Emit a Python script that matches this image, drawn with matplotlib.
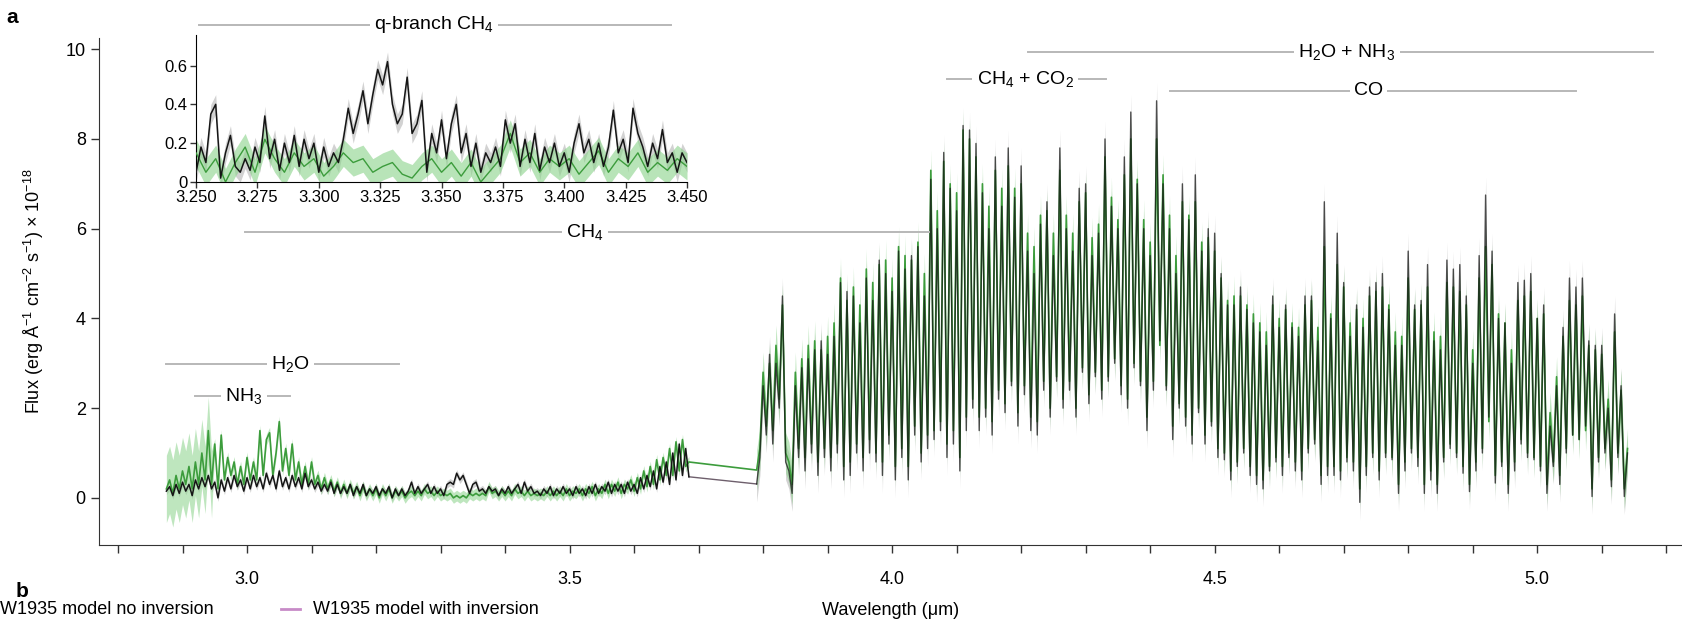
import numpy as np
import matplotlib.pyplot as plt
from matplotlib.ticker import MultipleLocator

plt.rcParams['font.family'] = ['Liberation Sans', 'DejaVu Sans']
plt.rcParams['mathtext.fontset'] = 'custom'
plt.rcParams['mathtext.rm'] = 'Liberation Sans'
plt.rcParams['mathtext.it'] = 'Liberation Sans:italic'
plt.rcParams['mathtext.default'] = 'regular'

# Segment 1: 2.875 - 3.685 um, every 0.005 um
seg1_start = 2.875
seg1_step = 0.005
seg1_data = [
    0.15, 0.25, 0.05, 0.3, 0.1, 0.35, 0.15, 0.3, 0.05, 0.4, 0.2, 0.45, 0.25, 0.5, 0.2, 0.35, 0.0, 0.4, 0.15, 0.45,
    0.2, 0.5, 0.25, 0.4, 0.15, 0.45, 0.2, 0.5, 0.25, 0.45, 0.2, 0.55, 0.3, 0.5, 0.2, 0.6, 0.25, 0.45, 0.2, 0.5,
    0.25, 0.45, 0.2, 0.55, 0.25, 0.4, 0.2, 0.35, 0.15, 0.3, 0.15, 0.35, 0.1, 0.3, 0.1, 0.25, 0.1, 0.3, 0.05, 0.25,
    0.1, 0.3, 0.05, 0.2, 0.1, 0.25, 0.05, 0.2, 0.1, 0.25, 0.0, 0.2, 0.05, 0.2, 0.05, 0.15, 0.35, 0.1, 0.25, 0.1,
    0.2, 0.3, 0.1, 0.25, 0.1, 0.2, 0.05, 0.3, 0.35, 0.3, 0.55, 0.4, 0.5, 0.3, 0.1, 0.3, 0.35, 0.15, 0.2, 0.1,
    0.25, 0.15, 0.2, 0.05, 0.2, 0.1, 0.25, 0.1, 0.2, 0.3, 0.1, 0.35, 0.15, 0.25, 0.1, 0.15, 0.05, 0.2, 0.1, 0.25,
    0.05, 0.2, 0.1, 0.25, 0.1, 0.2, 0.05, 0.25, 0.1, 0.2, 0.05, 0.25, 0.1, 0.3, 0.1, 0.25, 0.15, 0.35, 0.1, 0.3,
    0.15, 0.3, 0.1, 0.35, 0.15, 0.3, 0.1, 0.45, 0.2, 0.5, 0.25, 0.6, 0.2, 0.7, 0.35, 0.8, 0.3, 1.0, 0.4, 1.2,
    0.5, 1.1, 0.47,
]
seg1_model = [
    0.2, 0.4, 0.1, 0.5, 0.2, 0.6, 0.3, 0.7, 0.2, 0.8, 0.3, 1.0, 0.4, 1.5, 0.3, 1.2, 0.2, 1.4, 0.4, 0.9,
    0.5, 0.8, 0.3, 0.7, 0.3, 0.9, 0.4, 0.8, 0.4, 1.5, 0.5, 1.3, 1.45, 0.5, 1.0, 1.7, 0.6, 1.1, 0.5, 1.2,
    0.4, 0.8, 0.3, 0.7, 0.3, 0.8, 0.3, 0.5, 0.2, 0.45, 0.2, 0.4, 0.15, 0.35, 0.1, 0.3, 0.1, 0.3, 0.1, 0.25,
    0.05, 0.25, 0.05, 0.2, 0.05, 0.2, 0.0, 0.2, 0.05, 0.2, 0.0, 0.15, 0.05, 0.15, 0.0, 0.1, 0.15, 0.05, 0.15, 0.05,
    0.2, 0.1, 0.15, 0.05, 0.15, 0.05, 0.1, 0.05, 0.1, 0.0, 0.05, 0.0, 0.05, 0.0, 0.1, 0.05, 0.1, 0.05, 0.1, 0.05,
    0.25, 0.1, 0.15, 0.05, 0.15, 0.05, 0.15, 0.05, 0.2, 0.1, 0.15, 0.05, 0.15, 0.05, 0.1, 0.05, 0.1, 0.05, 0.15, 0.05,
    0.15, 0.05, 0.15, 0.05, 0.2, 0.05, 0.15, 0.1, 0.2, 0.05, 0.2, 0.1, 0.25, 0.05, 0.2, 0.1, 0.3, 0.1, 0.3, 0.15,
    0.35, 0.1, 0.3, 0.2, 0.4, 0.15, 0.45, 0.2, 0.6, 0.25, 0.7, 0.3, 0.85, 0.4, 0.9, 0.5, 1.1, 0.5, 1.25, 0.6,
    1.3, 0.7, 0.8,
]
seg1_wide_end = 2.95  # model spread is large below this wavelength

# Segment 2: 3.79 - 5.14 um, line peaks at 3.79, 3.80 ... and troughs at 3.795, 3.805 ...
seg2_start = 3.79
seg2_step = 0.005
seg2_data_peaks = [
    0.31, 2.5, 3.2, 3.0, 4.5, 0.6, 2.5, 2.9, 3.1, 3.3, 3.5, 3.2, 3.6, 4.8, 4.6, 4.5, 3.9, 4.9, 4.4, 5.3,
    5.0, 4.6, 5.5, 5.1, 5.4, 5.6, 4.5, 7.1, 6.0, 7.7, 6.9, 6.4, 8.3, 8.2, 7.9, 6.8, 6.0, 7.6, 6.5, 7.8,
    6.7, 7.4, 5.5, 5.0, 6.1, 6.6, 5.4, 7.8, 6.0, 5.5, 6.9, 7.0, 5.4, 5.9, 8.0, 6.5, 6.0, 7.6, 8.6, 7.0,
    6.0, 5.4, 8.85, 7.0, 6.0, 5.0, 7.0, 6.2, 7.2, 5.5, 6.0, 5.9, 5.0, 4.3, 4.3, 4.7, 4.2, 3.9, 3.7, 3.4,
    4.5, 3.8, 4.3, 3.8, 3.6, 4.5, 4.5, 3.5, 6.6, 4.0, 5.9, 4.8, 3.6, 4.3, 3.8, 4.7, 4.8, 5.0, 4.2, 3.4,
    3.4, 5.5, 4.3, 4.4, 5.2, 3.5, 3.3, 5.3, 5.1, 5.2, 4.5, 3.0, 5.4, 6.75, 5.5, 4.0, 3.9, 3.0, 4.8, 4.85,
    5.0, 4.0, 4.3, 1.6, 2.5, 3.8, 4.9, 4.7, 4.9, 3.5, 3.4, 3.4, 2.0, 4.1, 2.5, 1.0,
]
seg2_data_troughs = [
    0.9, 1.4, 1.2, 2.0, 0.8, 0.1, 0.9, 0.6, 1.0, 0.5, 0.9, 0.6, 1.0, 0.4, 0.5, 1.0, 0.6, 1.0, 0.8, 0.5,
    1.2, 0.4, 0.9, 0.4, 1.4, 0.8, 1.1, 1.3, 1.5, 0.9, 1.2, 0.6, 1.5, 2.0, 1.5, 1.8, 1.4, 2.2, 1.9, 2.5,
    1.6, 2.3, 1.5, 1.4, 2.4, 1.8, 2.6, 2.0, 2.4, 1.8, 2.8, 2.1, 2.7, 2.2, 2.6, 3.0, 2.3, 2.0, 2.9, 2.5,
    1.5, 2.4, 3.5, 2.4, 1.3, 2.0, 1.6, 1.2, 1.9, 1.2, 1.6, 0.9, 0.85, 0.4, 0.7, 1.0, 0.5, 0.3, 0.2, 0.6,
    0.8, 0.5, 0.9, 0.6, 0.4, 1.0, 1.2, 0.3, 0.5, 0.5, 0.4, 0.8, 0.6, -0.1, 0.5, 0.9, 0.4, 0.9, 0.85, 0.1,
    0.6, 1.0, 0.7, 0.1, 0.4, 0.1, 0.8, 1.1, 0.9, 0.55, 0.14, 0.6, 1.0, 1.8, 0.33, 0.7, 0.1, 0.6, 1.2, 0.9,
    0.85, 0.6, 0.1, 0.7, 0.3, 1.0, 1.4, 1.3, 1.6, 0.03, 0.8, 1.0, 0.25, 0.9, 0.03,
]
seg2_model_peaks = [
    0.62, 2.8, 3.0, 3.4, 4.3, 0.8, 2.8, 3.1, 3.4, 3.5, 3.3, 3.6, 3.9, 4.9, 4.4, 4.7, 4.3, 5.1, 4.8, 5.2,
    5.3, 4.9, 5.6, 5.4, 5.3, 5.7, 5.0, 7.3, 6.4, 7.5, 7.0, 6.8, 8.2, 8.0, 7.6, 7.0, 6.5, 7.3, 6.9, 7.4,
    6.9, 7.0, 5.9, 5.6, 6.3, 6.4, 5.9, 7.3, 6.3, 5.9, 6.6, 6.8, 5.8, 6.1, 7.6, 6.7, 6.2, 7.2, 8.0, 7.1,
    6.2, 5.7, 8.0, 7.2, 6.3, 5.4, 6.6, 6.3, 6.6, 5.7, 5.8, 5.5, 4.9, 4.4, 4.5, 4.5, 4.3, 4.1, 3.9, 3.7,
    4.3, 4.0, 4.2, 3.9, 3.8, 4.3, 4.4, 3.8, 5.6, 4.1, 5.2, 4.7, 3.9, 4.2, 4.0, 4.5, 4.6, 4.7, 4.3, 3.7,
    3.6, 4.9, 4.2, 4.3, 4.7, 3.7, 3.6, 4.8, 4.7, 4.6, 4.3, 3.3, 4.9, 5.6, 5.2, 4.1, 3.9, 3.3, 4.4, 4.5,
    4.6, 4.0, 4.1, 1.9, 2.7, 3.6, 4.4, 4.3, 4.5, 3.4, 3.3, 3.2, 2.2, 3.7, 2.4, 1.1,
]
seg2_model_troughs = [
    1.1, 1.6, 1.5, 2.2, 1.0, 0.3, 1.1, 0.9, 1.2, 0.8, 1.1, 0.9, 1.2, 0.7, 0.8, 1.2, 0.9, 1.3, 1.0, 0.8,
    1.4, 0.7, 1.1, 0.7, 1.6, 1.0, 1.4, 1.5, 1.7, 1.2, 1.5, 0.9, 1.8, 2.2, 1.8, 2.0, 1.7, 2.4, 2.1, 2.6,
    1.9, 2.5, 1.8, 1.7, 2.6, 2.0, 2.7, 2.2, 2.6, 2.0, 2.9, 2.3, 2.8, 2.4, 2.7, 3.1, 2.5, 2.2, 3.0, 2.6,
    1.8, 2.6, 3.4, 2.5, 1.6, 2.1, 1.8, 1.4, 2.0, 1.4, 1.7, 1.1, 1.0, 0.6, 0.8, 1.1, 0.7, 0.5, 0.4, 0.7,
    0.9, 0.7, 1.0, 0.8, 0.6, 1.1, 1.3, 0.5, 0.7, 0.7, 0.6, 0.9, 0.8, 0.2, 0.7, 1.0, 0.6, 1.0, 0.9, 0.3,
    0.8, 1.1, 0.9, 0.3, 0.6, 0.3, 0.9, 1.2, 1.0, 0.7, 0.3, 0.8, 1.1, 1.7, 0.5, 0.8, 0.3, 0.8, 1.3, 1.0,
    0.9, 0.7, 0.3, 0.8, 0.5, 1.1, 1.4, 1.3, 1.5, 0.2, 0.9, 1.1, 0.4, 1.0, 0.2,
]

# Inset (q-branch CH4): 3.250 - 3.450 um
inset_data_start = 3.25
inset_data_step = 0.002
inset_data = [
    0.05, 0.18, 0.10, 0.35, 0.40, 0.02, 0.15, 0.24, 0.08, 0.05, 0.12, 0.06, 0.18, 0.10, 0.34, 0.12, 0.22, 0.06, 0.20, 0.10,
    0.24, 0.08, 0.22, 0.12, 0.20, 0.05, 0.18, 0.08, 0.15, 0.10, 0.22, 0.38, 0.25, 0.35, 0.47, 0.30, 0.45, 0.58, 0.50, 0.62,
    0.40, 0.30, 0.35, 0.54, 0.25, 0.30, 0.42, 0.05, 0.25, 0.15, 0.32, 0.12, 0.30, 0.40, 0.15, 0.25, 0.08, 0.20, 0.05, 0.15,
    0.10, 0.18, 0.08, 0.32, 0.20, 0.30, 0.08, 0.22, 0.10, 0.25, 0.06, 0.18, 0.10, 0.20, 0.08, 0.15, 0.05, 0.20, 0.30, 0.15,
    0.22, 0.10, 0.20, 0.08, 0.18, 0.37, 0.15, 0.22, 0.10, 0.38, 0.25, 0.18, 0.08, 0.20, 0.12, 0.27, 0.10, 0.15, 0.05, 0.15,
    0.10,
]
inset_model_start = 3.25
inset_model_step = 0.004
inset_model = [
    0.15, 0.05, 0.12, 0.0, 0.10, 0.18, 0.05, 0.22, 0.12, 0.05, 0.15, 0.08, 0.12, 0.03, 0.08, 0.15, 0.10, 0.12, 0.05, 0.08,
    0.10, 0.04, 0.02, 0.08, 0.12, 0.05, 0.10, 0.03, 0.10, 0.0, 0.06, 0.12, 0.25, 0.10, 0.15, 0.05, 0.12, 0.08, 0.12, 0.04,
    0.10, 0.16, 0.05, 0.12, 0.08, 0.15, 0.05, 0.10, 0.06, 0.12, 0.08,
]

# uncertainties
seg1_err = 0.08
seg2_err = 0.4
inset_err = 0.05
model_spread_narrow = 0.12
model_spread_wide = 0.75
model_spread_seg2 = 0.45
inset_model_spread = 0.07

# labelled bands: label, start, end, flux level, label position
bands = [
    ('CH$_4$', 2.997, 4.057, 5.93, 3.524),
    ('H$_2$O + NH$_3$', 4.211, 5.18, 9.93, 4.705),
    ('CH$_4$ + CO$_2$', 4.085, 4.331, 9.33, 4.206),
    ('CO', 4.431, 5.06, 9.07, 4.739),
    ('H$_2$O', 2.875, 3.236, 2.99, 3.067),
    ('NH$_3$', 2.92, 3.067, 2.27, 2.995),
    ('q-branch CH$_4$', 2.925, 3.657, 10.55, 3.29),
]

DATA_COLOR = '#151515'
GAP_COLOR = '#6e5f6c'
ERR_COLOR = '#d2d2d2'
MODEL_COLOR = '#3c9c3c'
BAND_COLOR = '#8ad28a'
LINE_GRAY = '#b8b8b8'


def interleave(peaks, troughs):
    n = min(len(peaks), len(troughs) + 1)
    out = np.empty(2 * n - 1)
    out[0::2] = peaks[:n]
    out[1::2] = troughs[:n - 1]
    return out


def grid(start, step, values):
    return start + step * np.arange(len(values))


# build the two segments
s1 = min(len(seg1_data), len(seg1_model))
wl1 = grid(seg1_start, seg1_step, seg1_data[:s1])
d1 = np.array(seg1_data[:s1])
m1 = np.array(seg1_model[:s1])
sp1 = np.where(wl1 < seg1_wide_end, model_spread_wide, model_spread_narrow)

d2 = interleave(seg2_data_peaks, seg2_data_troughs)
m2 = interleave(seg2_model_peaks, seg2_model_troughs)
s2 = min(len(d2), len(m2))
d2, m2 = d2[:s2], m2[:s2]
wl2 = grid(seg2_start, seg2_step, d2)

fig = plt.figure(figsize=(16.83, 6.2), dpi=100)
ax = fig.add_axes([0.0588, 0.121, 0.9412, 0.8177])

for w, d, m, e, sp in [(wl1, d1, m1, seg1_err, sp1), (wl2, d2, m2, seg2_err, model_spread_seg2)]:
    ax.fill_between(w, d - e, d + e, color=ERR_COLOR, lw=0, zorder=1)
    ax.fill_between(w, m - sp, m + sp, color=BAND_COLOR, alpha=0.55, lw=0, zorder=2)

# model runs on across the detector gap
ax.plot(np.concatenate([wl1, wl2]), np.concatenate([m1, m2]), color=MODEL_COLOR, lw=1.2, zorder=3)
ax.plot([wl1[-1], wl2[0]], [d1[-1], d2[0]], color=GAP_COLOR, lw=1.0, zorder=3)
ax.plot(wl1, d1, color=DATA_COLOR, lw=1.1, zorder=4)
ax.plot(wl2, d2, color=DATA_COLOR, lw=1.0, alpha=0.75, zorder=4)

ax.set_xlim(2.7705, 5.226)
ax.set_ylim(-1.05, 10.25)
ax.xaxis.set_major_locator(MultipleLocator(0.5))
ax.xaxis.set_minor_locator(MultipleLocator(0.1))
ax.yaxis.set_major_locator(MultipleLocator(2))
ax.tick_params(which='both', direction='out', length=6, width=1, labelsize=13, color='#333333')
ax.tick_params(axis='x', pad=13)
for side in ['top', 'right']:
    ax.spines[side].set_visible(False)
for side in ['left', 'bottom']:
    ax.spines[side].set_color('#333333')

ax.set_xlabel('Wavelength (\u03bcm)', fontsize=13, labelpad=10)
ax.set_ylabel('Flux (erg \u00c5$^{-1}$ cm$^{-2}$ s$^{-1}$) \u00d7 10$^{-18}$', fontsize=13, labelpad=14)

for label, x0, x1, y, xt in bands:
    ax.plot([x0, x1], [y, y], color=LINE_GRAY, lw=1.4, clip_on=False, zorder=5)
    ax.text(xt, y, label, ha='center', va='center', fontsize=14, clip_on=False, zorder=6,
            bbox=dict(facecolor='white', edgecolor='none', pad=3))

# inset
ins = fig.add_axes([0.1165, 0.7065, 0.2917, 0.237])
iwl = grid(inset_data_start, inset_data_step, inset_data)
iwm = grid(inset_model_start, inset_model_step, inset_model)
idata = np.array(inset_data)
imodel = np.array(inset_model)
ins.fill_between(iwl, idata - inset_err, idata + inset_err, color=ERR_COLOR, lw=0, zorder=1)
ins.fill_between(iwm, imodel - inset_model_spread, imodel + inset_model_spread, color=BAND_COLOR,
                 alpha=0.6, lw=0, zorder=2)
ins.plot(iwm, imodel, color=MODEL_COLOR, lw=1.0, zorder=3)
ins.plot(iwl, idata, color=DATA_COLOR, lw=1.1, zorder=4)
ins.set_xlim(3.25, 3.45)
ins.set_ylim(0, 0.757)
ins.set_xticks(np.arange(3.25, 3.4501, 0.025))
ins.set_xticklabels(['%.3f' % v for v in np.arange(3.25, 3.4501, 0.025)])
ins.set_yticks([0, 0.2, 0.4, 0.6])
ins.set_yticklabels(['0', '0.2', '0.4', '0.6'])
ins.tick_params(direction='out', length=4, width=1, labelsize=12, pad=2, color='#333333')
for side in ['top', 'right']:
    ins.spines[side].set_visible(False)

# panel labels and the legend of the next panel
fig.text(0.004, 0.972, 'a', fontsize=15, fontweight='bold', va='center')
fig.text(0.009, 0.030, 'b', fontsize=15, fontweight='bold', va='bottom')
fig.text(0.0, 0.003, 'W1935 model no inversion', fontsize=13, va='bottom')
fig.add_artist(plt.Line2D([0.167, 0.178], [0.018, 0.018], color='#c78bc7', lw=2))
fig.text(0.186, 0.003, 'W1935 model with inversion', fontsize=13, va='bottom')

fig.savefig('out.png', dpi=100)
